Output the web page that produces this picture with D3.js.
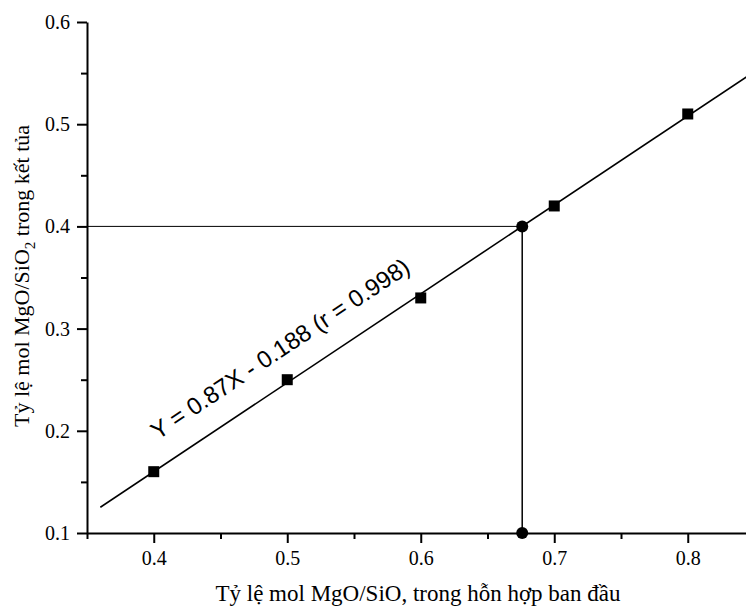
<!DOCTYPE html>
<html>
<head>
<meta charset="utf-8">
<script src="https://cdn.jsdelivr.net/npm/d3@7"></script>
<style>
  body { margin: 0; background: #fff; }
  svg { display: block; }
</style>
</head>
<body>
<svg id="chart" width="746" height="608"></svg>
<script>
'use strict';

// data
const ratioIn = [0.4, 0.5, 0.6, 0.7, 0.8];
const ratioOut = [0.16, 0.25, 0.33, 0.42, 0.51];
const slope = 0.87;
const intercept = -0.188;
const fitRange = [0.36, 0.86];
const target = {x: 0.676, y: 0.4};
const xMajor = [0.4, 0.5, 0.6, 0.7, 0.8];
const xMinor = [0.35, 0.45, 0.55, 0.65, 0.75, 0.85];
const yMajor = [0.1, 0.2, 0.3, 0.4, 0.5, 0.6];
const yMinor = [0.15, 0.25, 0.35, 0.45, 0.55];

const serif = "'Liberation Serif', 'Times New Roman', serif";

const svg = d3.select("#chart");

const x = d3.scaleLinear().domain([0.35, 0.85]).range([87, 754.5]);
const y = d3.scaleLinear().domain([0.1, 0.6]).range([533, 22]);

const fit = v => slope * v + intercept;

const styleAxis = g => {
	g.attr("font-family", serif).attr("font-size", 20);
	g.selectAll("path, line").attr("stroke", "#000").attr("stroke-width", 2);
	g.selectAll("text").attr("font-family", serif).attr("font-size", 20).attr("fill", "#000");
};

// axes
svg.append("g").attr("transform", `translate(0,${y(0.1)})`)
	.call(d3.axisBottom(x).tickValues(xMajor).tickFormat(d3.format(".1f"))
		.tickSize(10).tickSizeOuter(0).tickPadding(8))
	.call(styleAxis);
svg.append("g").attr("transform", `translate(0,${y(0.1)})`)
	.call(d3.axisBottom(x).tickValues(xMinor).tickFormat("").tickSize(6).tickSizeOuter(0))
	.call(g => g.select(".domain").remove())
	.call(styleAxis);

svg.append("g").attr("transform", `translate(${x(0.35)},0)`)
	.call(d3.axisLeft(y).tickValues(yMajor).tickFormat(d3.format(".1f"))
		.tickSize(10).tickSizeOuter(0).tickPadding(7))
	.call(styleAxis);
svg.append("g").attr("transform", `translate(${x(0.35)},0)`)
	.call(d3.axisLeft(y).tickValues(yMinor).tickFormat("").tickSize(6).tickSizeOuter(0))
	.call(g => g.select(".domain").remove())
	.call(styleAxis);

// guide lines to the read-off point
svg.append("line")
	.attr("x1", x(0.35)).attr("y1", y(target.y))
	.attr("x2", x(target.x)).attr("y2", y(target.y))
	.attr("stroke", "#000").attr("stroke-width", 1);
svg.append("line")
	.attr("x1", x(target.x)).attr("y1", y(target.y))
	.attr("x2", x(target.x)).attr("y2", y(0.1))
	.attr("stroke", "#000").attr("stroke-width", 1.5);

// regression line
svg.append("line")
	.attr("x1", x(fitRange[0])).attr("y1", y(fit(fitRange[0])))
	.attr("x2", x(fitRange[1])).attr("y2", y(fit(fitRange[1])))
	.attr("stroke", "#000").attr("stroke-width", 1.6);

// square markers
svg.append("g").selectAll("rect")
	.data(ratioIn.map((d, i) => ({x: d, y: ratioOut[i]})))
	.join("rect")
	.attr("x", d => x(d.x) - 5.5)
	.attr("y", d => y(d.y) - 5.5)
	.attr("width", 11).attr("height", 11)
	.attr("fill", "#000");

// circle markers
svg.append("g").selectAll("circle")
	.data([target, {x: target.x, y: 0.1}])
	.join("circle")
	.attr("cx", d => x(d.x))
	.attr("cy", d => y(d.y))
	.attr("r", 6)
	.attr("fill", "#000");

// equation label along the line
const a0 = 0.398;
const ang = Math.atan2(y(fit(a0)) - y(fit(0.8)), x(0.8) - x(a0)) * 180 / Math.PI;
svg.append("text")
	.attr("transform", `translate(${x(a0)},${y(fit(a0))}) rotate(${-ang})`)
	.attr("x", 24).attr("y", -24)
	.attr("font-family", "'Liberation Sans', Arial, sans-serif")
	.attr("font-size", 24)
	.attr("fill", "#000")
	.text("Y = 0.87X - 0.188 (r = 0.998)");

// axis titles
const xt = svg.append("text")
	.attr("x", 418).attr("y", 601)
	.attr("text-anchor", "middle")
	.attr("font-family", serif)
	.attr("font-size", 23)
	.attr("fill", "#000");
xt.append("tspan").text("Tỷ lệ mol MgO/SiO");
xt.append("tspan").text(", trong hỗn hợp ban đầu");

const yt = svg.append("text")
	.attr("transform", "translate(29,276) rotate(-90)")
	.attr("text-anchor", "middle")
	.attr("font-family", serif)
	.attr("font-size", 22)
	.attr("fill", "#000");
yt.append("tspan").text("Tỷ lệ mol MgO/SiO");
yt.append("tspan").attr("font-size", 15).attr("dy", 6).text("2");
yt.append("tspan").attr("dy", -6).text(" trong kết tủa");
</script>
</body>
</html>
